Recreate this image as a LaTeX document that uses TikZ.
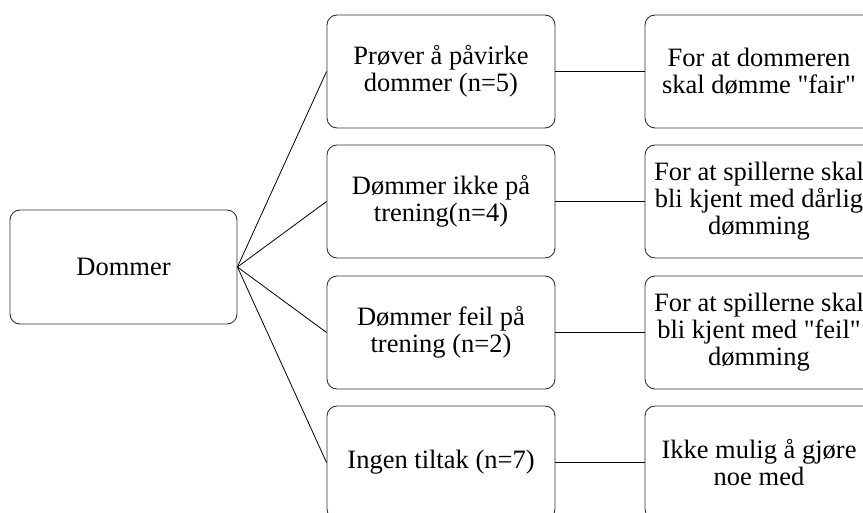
\documentclass[tikz,border=0pt]{standalone}
\usepackage{fontspec}
\setmainfont{Liberation Serif}
\usetikzlibrary{positioning}
\tikzset{box/.style={draw=black!80,line width=.9pt,rounded corners=10pt,minimum width=228pt,minimum height=113pt,inner sep=0pt,align=center}}

\begin{document}
\begin{tikzpicture}[x=1pt,y=-1pt,font=\fontsize{26.5}{27}\selectfont]
 \clip (0,0) rectangle (863,513);
 \node[box,minimum width=227pt,minimum height=114pt] (root) at (123.5,267) {Dommer};
 \node[box] (m1) at (441,71.5) {Prøver å påvirke\\dommer (n=5)};
 \node[box] (m2) at (441,201.5) {Dømmer ikke på\\trening(n=4)};
 \node[box] (m3) at (441,332.5) {Dømmer feil på\\trening (n=2)};
 \node[box] (m4) at (441,462.5) {Ingen tiltak (n=7)};
 \node[box] (r1) at (759,71.5) {For at dommeren\\skal dømme \textquotedbl fair\textquotedbl};
 \node[box] (r2) at (759,201.5) {For at spillerne skal\\bli kjent med dårlig\\dømming};
 \node[box] (r3) at (759,332.5) {For at spillerne skal\\bli kjent med \textquotedbl feil\textquotedbl\\dømming};
 \node[box] (r4) at (759,462.5) {Ikke mulig å gjøre\\noe med};
 \foreach \i in {1,...,4}{\draw[line width=.8pt] (root.east)--(m\i.west);\draw[line width=.8pt] (m\i.east)--(r\i.west);}
\end{tikzpicture}
\end{document}
